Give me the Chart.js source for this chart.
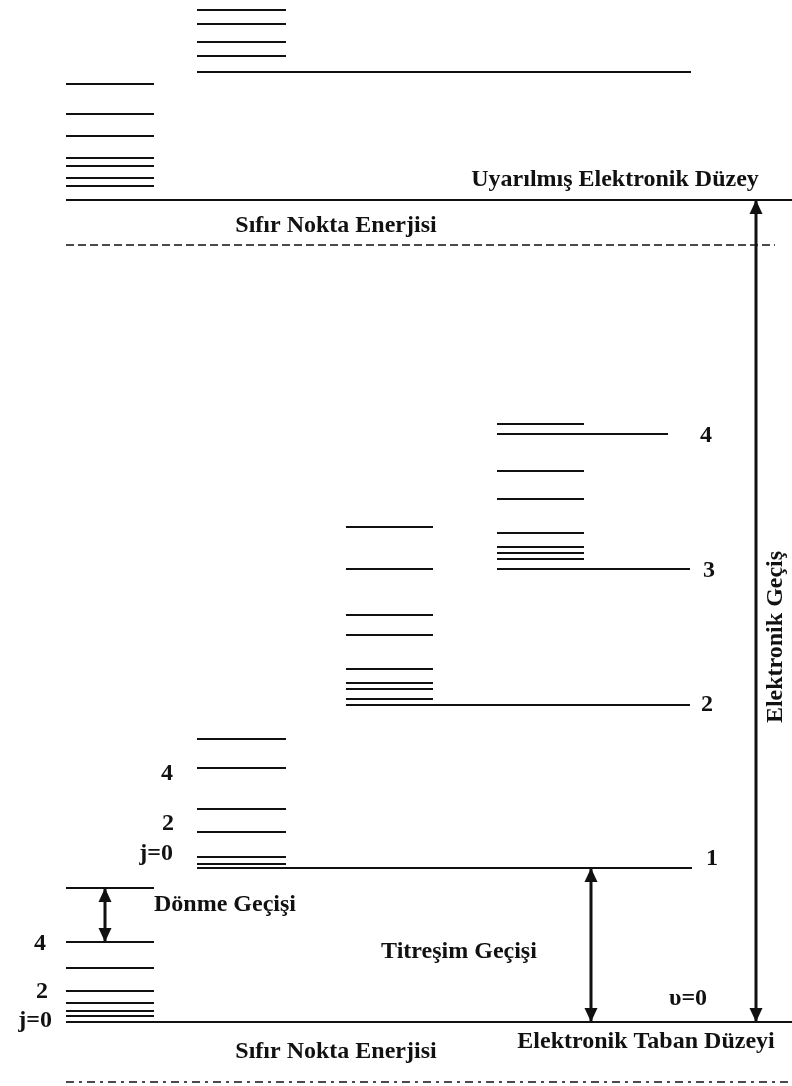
<!DOCTYPE html>
<html>
<head>
<meta charset="utf-8">
<script src="https://cdn.jsdelivr.net/npm/chart.js@4"></script>
<style>
  html, body { margin: 0; padding: 0; background: #fff; }
  canvas { display: block; }
</style>
</head>
<body>
<canvas id="diagram" width="792" height="1086"></canvas>
<script>
// enerji değerleri (taban düzeyi v=0, j=0 -> 0), keyfi birim
const groundVib = [0, 154, 317, 453, 588];          // v = 0..4
const groundV0Rot = [6, 11, 19, 31, 54, 80, 134];
const groundV1Rot = [158, 165, 190, 213, 254, 283];
const groundV2Rot = [323, 333, 339, 353, 387, 407, 453, 495];
const groundV3Rot = [463, 469, 475, 489, 523, 551, 598];
const excitedVib = [822, 950];
const excitedV0Rot = [836, 844, 856, 864, 886, 908, 938];
const excitedV1Rot = [966, 980, 998, 1012];
const zeroPoint = [-60, 777];                       // sıfır nokta enerjileri
const vibLabels = ['υ=0', '1', '2', '3', '4'];
const rotLabels = ['j=0', '2', '4'];

const ink = '#111';

// sütunlar (x ekseni birimi)
const colA = [66, 154], colB = [197, 286], colC = [346, 433], colD = [497, 584];

function level(x0, x1, e, extra) {
  return Object.assign({
    data: [{ x: x0, y: e }, { x: x1, y: e }],
    showLine: true,
    borderColor: ink,
    borderWidth: 2,
    pointRadius: 0
  }, extra || {});
}

const datasets = [];
// titreşim düzeyleri (uzun çizgiler)
datasets.push(level(colA[0], 792, groundVib[0]));
datasets.push(level(colB[0], 692, groundVib[1]));
datasets.push(level(colC[0], 690, groundVib[2]));
datasets.push(level(colD[0], 690, groundVib[3]));
datasets.push(level(colD[0], 668, groundVib[4]));
datasets.push(level(colA[0], 792, excitedVib[0]));
datasets.push(level(colB[0], 691, excitedVib[1]));
// dönme düzeyleri
groundV0Rot.forEach(e => datasets.push(level(colA[0], colA[1], e)));
groundV1Rot.forEach(e => datasets.push(level(colB[0], colB[1], e)));
groundV2Rot.forEach(e => datasets.push(level(colC[0], colC[1], e)));
groundV3Rot.forEach(e => datasets.push(level(colD[0], colD[1], e)));
excitedV0Rot.forEach(e => datasets.push(level(colA[0], colA[1], e)));
excitedV1Rot.forEach(e => datasets.push(level(colB[0], colB[1], e)));
// sıfır nokta enerjisi çizgileri
datasets.push(level(colA[0], 792, zeroPoint[0], { borderDash: [8, 5, 3, 5], borderWidth: 1.6 }));
datasets.push(level(colA[0], 775, zeroPoint[1], { borderDash: [8, 4], borderWidth: 1.6 }));

// geçiş okları
const arrows = [
  { x: 105, from: groundV0Rot[5], to: groundV0Rot[6] },
  { x: 591, from: groundVib[0], to: groundVib[1] },
  { x: 756, from: groundVib[0], to: excitedVib[0] }
];
arrows.forEach(a => datasets.push(level(a.x, a.x, 0, {
  data: [{ x: a.x, y: a.from }, { x: a.x, y: a.to }],
  borderWidth: 3
})));

const labels = [
  { text: 'Uyarılmış Elektronik Düzey', x: 615, y: 844 },
  { text: 'Sıfır Nokta Enerjisi', x: 336, y: 798 },
  { text: 'Sıfır Nokta Enerjisi', x: 336, y: -28 },
  { text: 'Elektronik Taban Düzeyi', x: 646, y: -18 },
  { text: 'Titreşim Geçişi', x: 459, y: 72 },
  { text: 'Dönme Geçişi', x: 154, y: 119, align: 'left' },
  { text: 'Elektronik Geçiş', x: 776, y: 385, rot: -Math.PI / 2 },
  { text: vibLabels[0], x: 688, y: 25 },
  { text: vibLabels[1], x: 712, y: 165 },
  { text: vibLabels[2], x: 707, y: 319 },
  { text: vibLabels[3], x: 709, y: 453 },
  { text: vibLabels[4], x: 706, y: 588 },
  { text: rotLabels[0], x: 52, y: 3, align: 'right' },
  { text: rotLabels[1], x: 42, y: 32 },
  { text: rotLabels[2], x: 40, y: 80 },
  { text: rotLabels[0], x: 173, y: 170, align: 'right' },
  { text: rotLabels[1], x: 168, y: 200 },
  { text: rotLabels[2], x: 167, y: 250 }
];

const notes = {
  id: 'notes',
  afterDatasetsDraw(chart) {
    const { ctx, scales: { x, y } } = chart;
    ctx.save();
    ctx.fillStyle = ink;
    ctx.font = 'bold 24px "Liberation Serif", "Times New Roman", serif';
    ctx.textBaseline = 'middle';
    labels.forEach(l => {
      ctx.save();
      ctx.translate(x.getPixelForValue(l.x), y.getPixelForValue(l.y));
      if (l.rot) ctx.rotate(l.rot);
      ctx.textAlign = l.align || 'center';
      ctx.fillText(l.text, 0, l.rot ? 0 : 2);
      ctx.restore();
    });
    // ok uçları
    const head = (px, py, dir) => {
      ctx.beginPath();
      ctx.moveTo(px, py);
      ctx.lineTo(px - 6.5, py + dir * 14);
      ctx.lineTo(px + 6.5, py + dir * 14);
      ctx.closePath();
      ctx.fill();
    };
    arrows.forEach(a => {
      const px = x.getPixelForValue(a.x);
      const top = y.getPixelForValue(a.to);
      const bottom = y.getPixelForValue(a.from);
      head(px, top, 1);
      head(px, bottom, -1);
    });
    ctx.restore();
  }
};

new Chart(document.getElementById('diagram'), {
  type: 'scatter',
  data: { datasets },
  options: {
    responsive: false,
    animation: false,
    events: [],
    layout: { padding: 0 },
    plugins: {
      legend: { display: false },
      tooltip: { enabled: false }
    },
    scales: {
      x: { type: 'linear', display: false, min: 0, max: 792 },
      y: { type: 'linear', display: false, min: -64, max: 1022 }
    }
  },
  plugins: [notes]
});
</script>
</body>
</html>
